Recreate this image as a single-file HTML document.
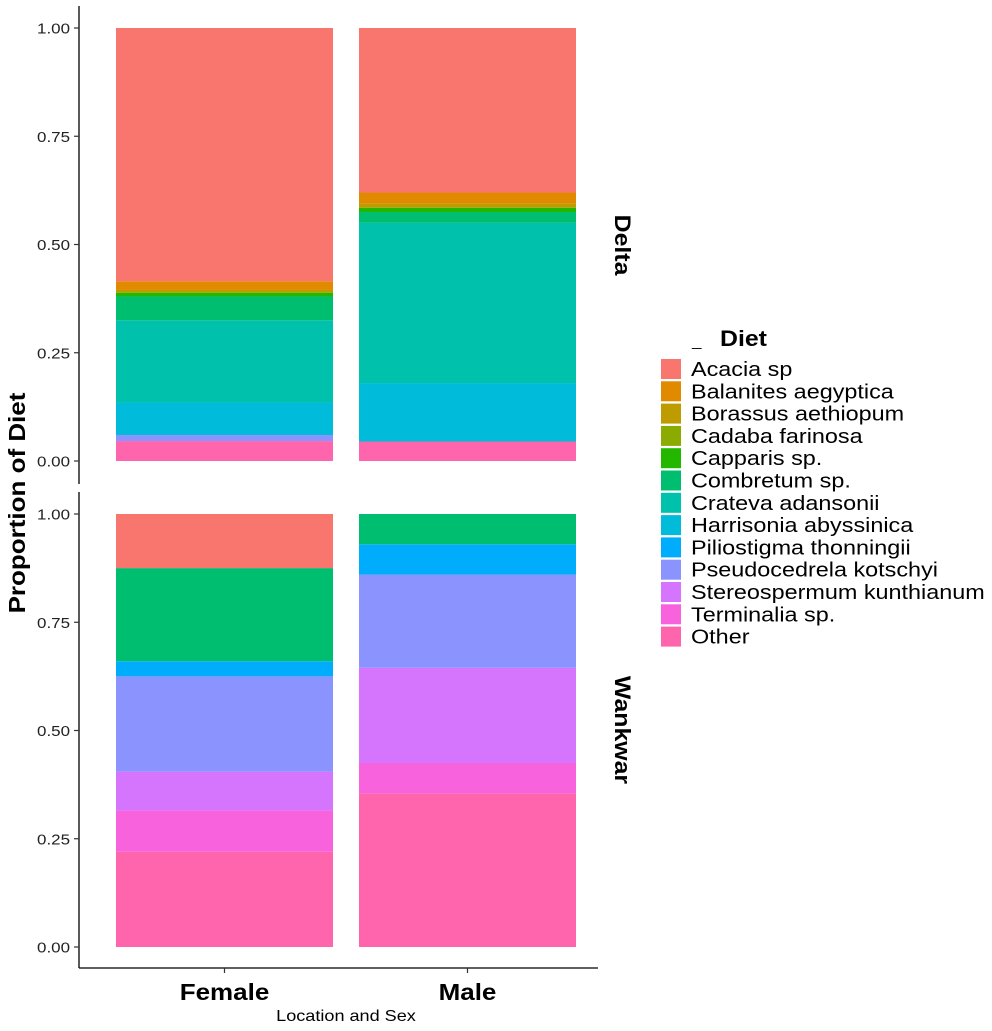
<!DOCTYPE html>
<html><head><meta charset="utf-8">
<style>
html,body{margin:0;padding:0;background:#fff;}
svg{display:block;font-family:"Liberation Sans",Arial,sans-serif;}
</style></head>
<body>
<svg id="chart" width="992" height="1031" viewBox="0 0 992 1031"></svg>
<script>
const species = ["Acacia sp","Balanites aegyptica","Borassus aethiopum","Cadaba farinosa","Capparis sp.","Combretum sp.","Crateva adansonii","Harrisonia abyssinica","Piliostigma thonningii","Pseudocedrela kotschyi","Stereospermum kunthianum","Terminalia sp.","Other"];
const colors = ["#F8766D","#E18A00","#BE9C00","#8CAB00","#24B700","#00BE70","#00C1AB","#00BBDA","#00ACFC","#8B93FF","#D575FE","#F962DD","#FF65AC"];
const sexes = ["Female","Male"];
const locations = ["Delta","Wankwar"];
const yTicks = [0,0.25,0.5,0.75,1];
const yTickLabels = ["0.00","0.25","0.50","0.75","1.00"];
const deltaFemale = [0.585,0.020,0.005,0.002,0.008,0.055,0.190,0.075,0,0.014,0,0,0.046];
const deltaMale   = [0.380,0.025,0.010,0.000,0.010,0.025,0.370,0.135,0,0,0,0,0.045];
const wankwarFemale = [0.125,0,0,0,0,0.215,0,0,0.035,0.220,0.090,0.095,0.220];
const wankwarMale   = [0,0,0,0,0,0.070,0,0,0.070,0.215,0.220,0.070,0.355];
const panelData = [[deltaFemale,deltaMale],[wankwarFemale,wankwarMale]];

const NS="http://www.w3.org/2000/svg";
const svg=document.getElementById('chart');
function mk(tag,attrs,parent){const e=document.createElementNS(NS,tag);for(const k in attrs)e.setAttribute(k,attrs[k]);(parent||svg).appendChild(e);return e;}
function txt(x,y,sx,attrs,parent,rot){
  let tr=`translate(${x} ${y})`+(rot?` rotate(${rot})`:'')+` scale(${sx} 1)`;
  attrs.transform=tr; attrs.x=0; attrs.y=0;
  return mk('text',attrs,parent);
}
const SX=1.13;

const panels=[{top:6,bot:484,y0:461,y1:28},{top:492,bot:968,y0:947,y1:514}];
const barX=[116,359], barW=217;
const axisX=79;

panels.forEach((p,pi)=>{
  const yScale=v=>p.y0+(p.y1-p.y0)*v;
  const g=mk('g',{});
  
  
  sexes.forEach((s,si)=>{
    const vals=panelData[pi][si];
    let cum=0;
    for(let k=species.length-1;k>=0;k--){
      const v=vals[k]; if(v<=0) continue;
      const yb=yScale(cum), yt=yScale(cum+v);
      const r=mk('rect',{x:barX[si],y:yt,width:barW,height:yb-yt,fill:colors[k]},g);
      
      
      cum+=v;
    }
  });
  const ax=mk('line',{x1:axisX,x2:axisX,y1:p.top,y2:p.bot,stroke:'#000','stroke-width':1.3},g);
  
  
  yTicks.forEach((t,i)=>{
    const y=yScale(t);
    const tk=mk('line',{x1:axisX-5,x2:axisX,y1:y,y2:y,stroke:'#333','stroke-width':1.2},g);
    
    
    const tx=txt(70,y+5.5,SX,{'text-anchor':'end','font-size':15,fill:'#222'},g);
    tx.textContent=yTickLabels[i];
    
    
  });
  const cy=(p.top+p.bot)/2;
  const st=txt(615,cy,SX,{'text-anchor':'middle','font-size':22,'font-weight':'bold',fill:'#000'},g,90);
  st.textContent=locations[pi];
  
  
});

const xl=mk('line',{x1:axisX,x2:598,y1:968,y2:968,stroke:'#000','stroke-width':1.3});


sexes.forEach((s,si)=>{
  const cx=barX[si]+barW/2;
  const tk=mk('line',{x1:cx,x2:cx,y1:968,y2:973,stroke:'#333','stroke-width':1.2});
  
  
  const t=txt(cx,1000,SX,{'text-anchor':'middle','font-size':23,'font-weight':'bold',fill:'#000'});
  t.textContent=s;
  
  
});
const xt=txt(346,1021,SX,{'text-anchor':'middle','font-size':16,fill:'#000'});
xt.textContent='Location and Sex';


const yt=txt(25,503,SX,{'text-anchor':'middle','font-size':23,'font-weight':'bold',fill:'#000'},null,-90);
yt.textContent='Proportion of Diet';



const lg=mk('g',{});


const lt=txt(692,346,SX,{'font-size':15,fill:'#000'},lg);
lt.textContent='_';


const ltt=txt(720,346,SX,{'font-size':22,'font-weight':'bold',fill:'#000'},lg);
ltt.textContent='Diet';


species.forEach((sp,i)=>{
  const y=359+i*22.3;
  const r=mk('rect',{x:661,y:y,width:20,height:20,fill:colors[i]},lg);
  
  
  const t=txt(691,y+17,1.17,{'font-size':20,fill:'#000'},lg);
  t.textContent=sp;
  
  
});
</script>
</body></html>
